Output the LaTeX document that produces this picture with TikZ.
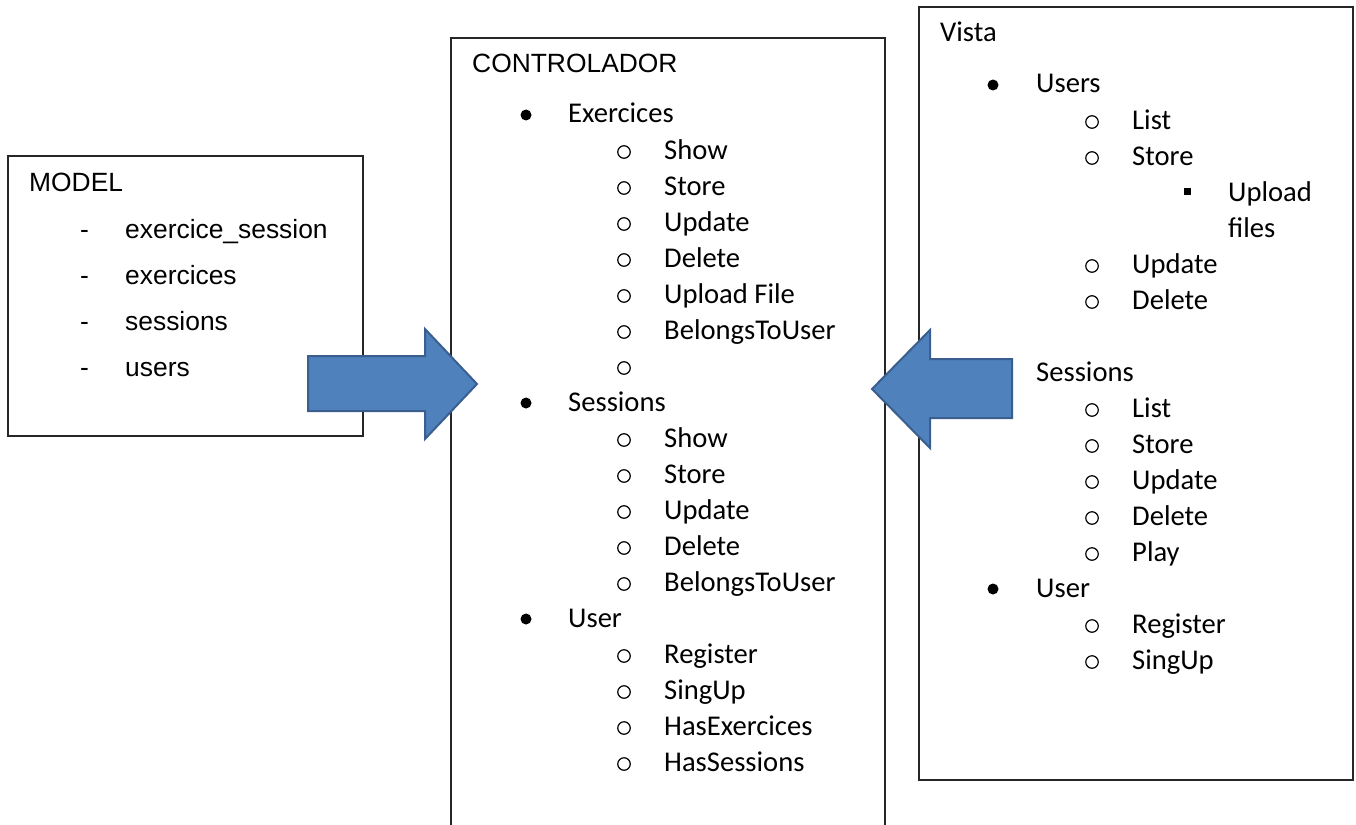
\documentclass[tikz,border=0pt]{standalone}
\usepackage{fontspec}
\setmainfont{Carlito}
\newfontfamily\arialfont{Liberation Sans}
\usetikzlibrary{positioning}
\definecolor{arrowblue}{HTML}{4F81BD}
\definecolor{arrowedge}{HTML}{3A5F8E}
\tikzset{
	boxline/.style={draw=black!85, line width=1.3pt},
	item/.style={anchor=base west, inner sep=0pt, font=\fontsize{28.6}{34}\selectfont},
	head/.style={anchor=base west, inner sep=0pt, font=\arialfont\fontsize{26.4}{32}\selectfont},
	fullbullet/.style={circle, fill=black, inner sep=0pt, minimum size=11pt},
	openbullet/.style={circle, draw=black, line width=1.2pt, inner sep=0pt, minimum size=12.5pt},
	squarebullet/.style={fill=black, inner sep=0pt, minimum size=7pt},
	blockarrow/.style={fill=arrowblue, draw=arrowedge, line width=2pt, line join=miter}
}

\begin{document}
\begin{tikzpicture}[x=1pt,y=-1pt]
	\useasboundingbox (0,0) rectangle (1356,824);
	% MODEL
	\draw[boxline] (8,156) rectangle (363,436);
	\node[head] (model) at (29,191) {MODEL};
	\foreach \t [count=\i] in {exercice\_session, exercices, sessions, users} {
		\node[head] (mdash\i) at (80,192+46*\i) {-};
		\node[head] (m\i) at (125,192+46*\i) {\t};
	}
	% CONTROLADOR
	\draw[boxline] (451,830) -- (451,38) -- (885,38) -- (885,830);
	\node[head] (ctrl) at (472,73) {CONTROLADOR};
	\foreach \lv/\t [count=\i from 0] in {1/Exercices, 2/Show, 2/Store, 2/Update, 2/Delete, 2/Upload File, 2/BelongsToUser, 2/,
		1/Sessions, 2/Show, 2/Store, 2/Update, 2/Delete, 2/BelongsToUser,
		1/User, 2/Register, 2/SingUp, 2/HasExercices, 2/HasSessions} {
		\pgfmathsetmacro\yy{123+36*\i}
		\ifnum\lv=1
			\node[fullbullet] (cb\i) at (526,\yy-8) {};
			\node[item] (c\i) at (568,\yy) {\t};
		\else
			\node[openbullet] (cb\i) at (624,\yy-7) {};
			\node[item] (c\i) at (664,\yy) {\t};
		\fi
	}
	% Vista
	\draw[boxline] (919,7) rectangle (1353,780);
	\node[item] (vista) at (940,42) {Vista};
	\foreach \r/\lv/\t in {0/1/Users, 1/2/List, 2/2/Store, 3/3/Upload, 4/4/files, 5/2/Update, 6/2/Delete,
		8/0/Sessions, 9/2/List, 10/2/Store, 11/2/Update, 12/2/Delete, 13/2/Play,
		14/1/User, 15/2/Register, 16/2/SingUp} {
		\pgfmathsetmacro\yy{93+36*\r}
		\ifcase\lv
			\node[item] (v\r) at (1036,\yy) {\t};
		\or
			\node[fullbullet] (vb\r) at (993,\yy-8) {};
			\node[item] (v\r) at (1036,\yy) {\t};
		\or
			\node[openbullet] (vb\r) at (1092,\yy-7) {};
			\node[item] (v\r) at (1132,\yy) {\t};
		\or
			\node[squarebullet] (vb\r) at (1187,\yy-10) {};
			\node[item] (v\r) at (1228,\yy) {\t};
		\or
			\node[item] (v\r) at (1228,\yy) {\t};
		\fi
	}
	% flechas
	\draw[blockarrow] (308,356) -- (425,356) -- (425,329) -- (477,384) -- (425,439) -- (425,411) -- (308,411) -- cycle;
	\draw[blockarrow] (1012,359) -- (930,359) -- (930,330) -- (872,389) -- (930,448) -- (930,418) -- (1012,418) -- cycle;
\end{tikzpicture}
\end{document}
